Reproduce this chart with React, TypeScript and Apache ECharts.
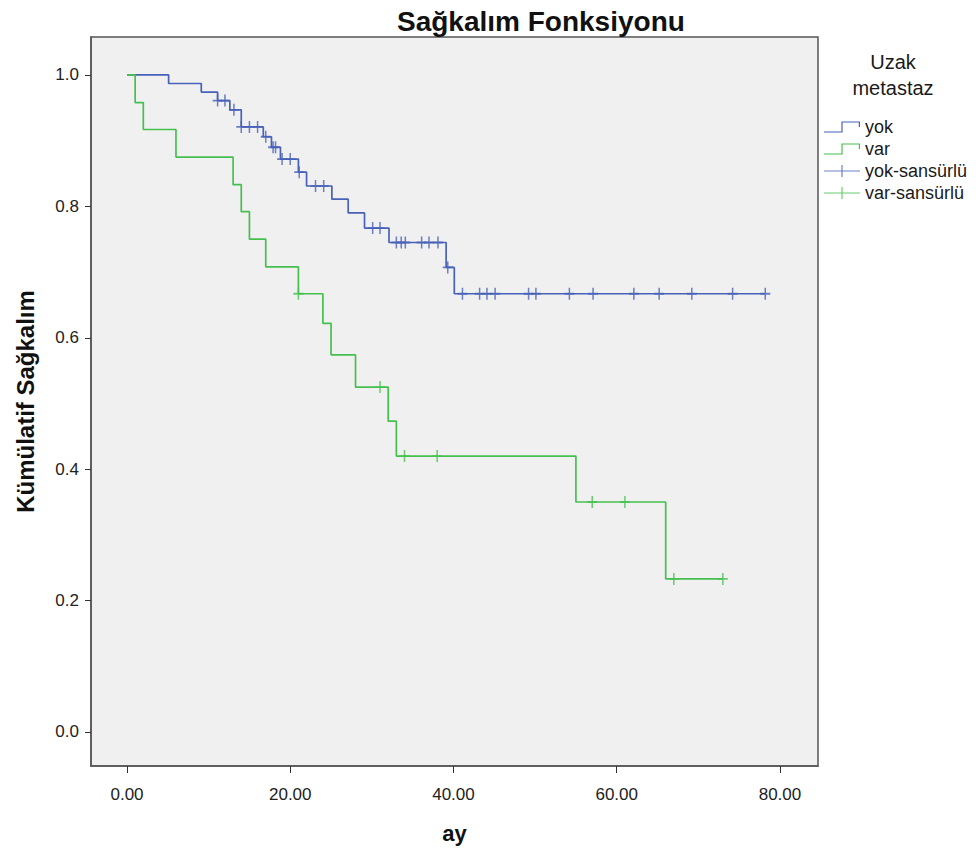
import React, { useEffect, useRef } from "react";
import * as echarts from "echarts";

// Kaplan-Meier step points (time in months, cumulative survival)
const yokTimes = [0, 5.1, 9.1, 11.1, 12.6, 14.0, 16.7, 17.7, 18.8, 21.0, 22.0, 25.1, 27.1, 29.1, 32.1, 39.1, 40.1, 78.2];
const yokSurv = [1.0, 0.987, 0.974, 0.961, 0.947, 0.921, 0.906, 0.89, 0.872, 0.852, 0.831, 0.811, 0.79, 0.767, 0.745, 0.707, 0.667, 0.667];
const yokCensored = [11.1, 12.0, 13.1, 14.0, 15.0, 16.0, 17.0, 17.9, 18.2, 19.0, 20.0, 21.1, 23.1, 24.1, 30.1, 31.0, 33.0, 33.6, 34.1, 36.1, 37.0, 38.1, 39.3, 41.1, 43.2, 44.1, 45.1, 49.2, 50.1, 54.2, 57.1, 62.1, 65.2, 69.2, 74.2, 78.2];

const varTimes = [0, 1.0, 2.0, 6.0, 13.0, 14.0, 15.0, 17.0, 21.0, 24.0, 25.0, 28.0, 32.0, 33.0, 55.0, 66.0, 73.0];
const varSurv = [1.0, 0.958, 0.917, 0.875, 0.833, 0.792, 0.75, 0.708, 0.667, 0.622, 0.574, 0.525, 0.473, 0.42, 0.35, 0.233, 0.233];
const varCensored = [21.0, 31.0, 34.0, 38.0, 57.0, 61.0, 67.0, 73.0];

const xTicks = [0, 20, 40, 60, 80];
const yTicks = [0, 0.2, 0.4, 0.6, 0.8, 1.0];

const seriesNames = ["yok", "var", "yok-sansürlü", "var-sansürlü"];
const legendTitle = "Uzak\nmetastaz";
const chartTitle = "Sağkalım Fonksiyonu";
const xName = "ay";
const yName = "Kümülatif Sağkalım";

const BLUE = "#4762b8";
const GREEN = "#45c04f";
const FONT = "Liberation Sans";

const levelAt = (times: number[], surv: number[], t: number) => {
  let v = surv[0];
  for (let i = 0; i < times.length; i++) if (times[i] <= t) v = surv[i];
  return v;
};

const plusSymbol = "path://M0,8.5 H20 V11.5 H0 Z M8.5,0 H11.5 V20 H8.5 Z";
const stepIcon = "path://M0,10.4 H17.4 V0.4 H36 V6 H34.8 V1.6 H18.6 V11.6 H0 Z";
const plusIcon = "path://M0,5.4 H36 V6.6 H0 Z M17.4,0 H18.6 V12 H17.4 Z";

export default function App() {
  const ref = useRef<HTMLDivElement>(null);
  useEffect(() => {
    if (!ref.current) return;
    const chart = echarts.init(ref.current, null, { renderer: "svg" });
    const option = {
      animation: false,
      backgroundColor: "#ffffff",
      textStyle: { fontFamily: FONT },
      title: {
        text: chartTitle,
        left: 392,
        top: 2,
        textStyle: { fontFamily: FONT, fontSize: 28, fontWeight: "bold", color: "#111" },
      },
      grid: {
        left: 91,
        right: 158,
        top: 37,
        bottom: 90,
        show: true,
        backgroundColor: "#f0f0f0",
        borderColor: "#555555",
        borderWidth: 1.5,
      },
      legend: {
        orient: "vertical",
        left: 819,
        top: 113,
        itemWidth: 36,
        itemHeight: 12,
        itemGap: 4,
        textStyle: { fontFamily: FONT, fontSize: 18, color: "#1a1a1a" },
        data: [
          { name: seriesNames[0], icon: stepIcon },
          { name: seriesNames[1], icon: stepIcon },
          { name: seriesNames[2], icon: plusIcon },
          { name: seriesNames[3], icon: plusIcon },
        ],
      },
      graphic: [
        {
          type: "text",
          x: 893,
          y: 49,
          style: {
            text: legendTitle,
            fontFamily: FONT,
            fontSize: 20,
            fill: "#1a1a1a",
            align: "center",
            verticalAlign: "top",
            lineHeight: 26,
          },
        },
      ],
      xAxis: {
        type: "value",
        min: -4.41,
        max: 84.66,
        name: xName,
        nameLocation: "middle",
        nameGap: 56,
        nameTextStyle: { fontFamily: FONT, fontSize: 22, fontWeight: "bold", color: "#111" },
        splitLine: { show: false },
        axisLine: { show: true, onZero: false, lineStyle: { color: "#555", width: 1.5 } },
        axisTick: { show: true, length: 7, customValues: xTicks, lineStyle: { color: "#333" } },
        axisLabel: {
          customValues: xTicks,
          margin: 20,
          fontFamily: FONT,
          fontSize: 17,
          color: "#222",
          formatter: (v: number) => v.toFixed(2),
        },
      },
      yAxis: {
        type: "value",
        min: -0.0518,
        max: 1.0578,
        name: yName,
        nameLocation: "middle",
        nameGap: 54,
        nameTextStyle: { fontFamily: FONT, fontSize: 24, fontWeight: "bold", color: "#111" },
        splitLine: { show: false },
        axisLine: { show: true, onZero: false, lineStyle: { color: "#555", width: 1.5 } },
        axisTick: { show: true, length: 6, customValues: yTicks, lineStyle: { color: "#333" } },
        axisLabel: {
          customValues: yTicks,
          margin: 12,
          fontFamily: FONT,
          fontSize: 17,
          color: "#222",
          formatter: (v: number) => v.toFixed(1),
        },
      },
      series: [
        {
          name: seriesNames[0],
          type: "line",
          step: "end",
          symbol: "none",
          color: BLUE,
          lineStyle: { color: BLUE, width: 1.7 },
          data: yokTimes.map((t, i) => [t, yokSurv[i]]),
          z: 2,
        },
        {
          name: seriesNames[1],
          type: "line",
          step: "end",
          symbol: "none",
          color: GREEN,
          lineStyle: { color: GREEN, width: 1.7 },
          data: varTimes.map((t, i) => [t, varSurv[i]]),
          z: 3,
        },
        {
          name: seriesNames[2],
          type: "scatter",
          symbol: plusSymbol,
          symbolSize: [10, 12],
          symbolKeepAspect: false,
          color: BLUE,
          itemStyle: { color: BLUE },
          data: yokCensored.map((t) => [t, levelAt(yokTimes, yokSurv, t)]),
          z: 4,
        },
        {
          name: seriesNames[3],
          type: "scatter",
          symbol: plusSymbol,
          symbolSize: [10, 12],
          symbolKeepAspect: false,
          color: GREEN,
          itemStyle: { color: GREEN },
          data: varCensored.map((t) => [t, levelAt(varTimes, varSurv, t)]),
          z: 5,
        },
      ],
    };
    chart.setOption(option as any);
    return () => chart.dispose();
  }, []);
  return (
    <div
      ref={ref}
      style={{ position: "fixed", left: 0, top: 0, width: 976, height: 856, background: "#fff" }}
    />
  );
}
